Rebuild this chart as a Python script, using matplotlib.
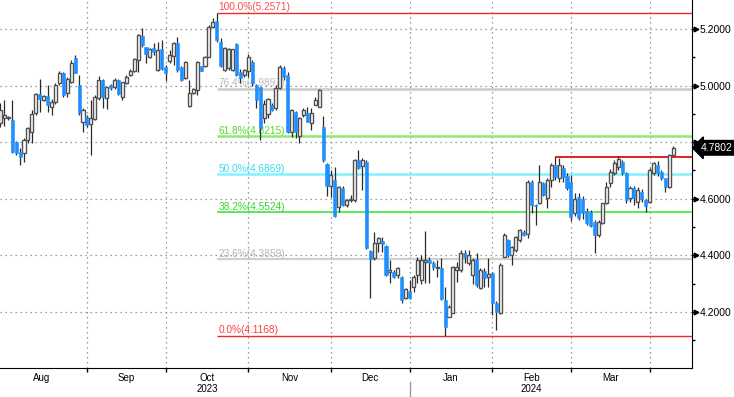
import numpy as np
import matplotlib
matplotlib.use("Agg")
import matplotlib.pyplot as plt
from matplotlib.transforms import blended_transform_factory

plt.rcParams["font.family"] = ["Liberation Sans", "DejaVu Sans"]

# daily candles, early Aug 2023 .. 9 Apr 2024 (one line per month)
opens = [
    4.867, 4.884, 4.884, 4.878, 4.802, 4.767, 4.761, 4.808, 4.837, 4.902, 4.969, 4.949, 4.963, 4.926, 4.943, 5.008, 5.046, 4.973, 5.014, 5.096, 5.002, 4.873,
    4.888, 4.864, 4.881, 4.955, 5.020, 4.955, 5.002, 4.994, 5.020, 4.961, 5.008, 5.037, 5.053, 5.090, 5.175, 5.138, 5.102, 5.132, 5.055, 5.129,
    5.067, 5.088, 5.105, 5.149, 5.067, 5.026, 4.928, 4.973, 4.984, 5.069, 5.069, 5.102, 5.208, 5.229, 5.155, 5.055, 5.061, 5.055, 5.147, 5.049, 5.037,
    5.050, 5.085, 5.002, 4.994, 4.884, 4.900, 4.933, 4.920, 4.990, 5.061, 5.037, 4.837, 4.908, 4.822, 4.896, 4.904, 4.867, 4.932, 4.926, 4.855, 4.723,
    4.645, 4.666, 4.572, 4.637, 4.578, 4.596, 4.596, 4.737, 4.716, 4.731, 4.417, 4.390, 4.443, 4.450, 4.433, 4.343, 4.343, 4.331, 4.325, 4.248,
    4.275, 4.287, 4.331, 4.313, 4.375, 4.384, 4.372, 4.355, 4.354, 4.242, 4.183, 4.197, 4.348, 4.348, 4.407, 4.372, 4.331, 4.386, 4.284, 4.346, 4.325,
    4.337, 4.233, 4.195, 4.395, 4.454, 4.401, 4.419, 4.454, 4.484, 4.476, 4.661, 4.578, 4.584, 4.657, 4.602, 4.666, 4.719, 4.672, 4.708, 4.680,
    4.660, 4.550, 4.607, 4.600, 4.558, 4.554, 4.519, 4.472, 4.513, 4.584, 4.657, 4.690, 4.714, 4.731, 4.690, 4.602, 4.637, 4.590, 4.625, 4.596,
    4.590, 4.690, 4.720, 4.696, 4.672, 4.643, 4.755,
]
highs = [
    4.937, 4.949, 4.892, 4.949, 4.805, 4.778, 4.814, 4.855, 4.914, 4.973, 5.022, 4.967, 5.002, 4.951, 5.008, 5.053, 5.049, 5.029, 5.090, 5.108, 5.037, 4.920,
    4.895, 4.949, 4.967, 5.034, 5.022, 4.996, 5.004, 5.026, 5.023, 5.014, 5.036, 5.058, 5.096, 5.182, 5.202, 5.138, 5.132, 5.152, 5.155, 5.161,
    5.073, 5.126, 5.155, 5.173, 5.069, 5.088, 5.020, 4.990, 5.088, 5.071, 5.103, 5.214, 5.238, 5.2571, 5.167, 5.135, 5.132, 5.130, 5.150, 5.058, 5.060,
    5.110, 5.090, 5.004, 4.996, 4.949, 4.955, 4.940, 5.002, 5.073, 5.070, 5.049, 4.916, 4.910, 4.890, 4.920, 4.926, 4.920, 4.960, 4.987, 4.893, 4.725,
    4.702, 4.713, 4.645, 4.645, 4.598, 4.613, 4.740, 4.772, 4.743, 4.737, 4.419, 4.484, 4.466, 4.466, 4.437, 4.384, 4.349, 4.360, 4.327, 4.284,
    4.313, 4.331, 4.396, 4.400, 4.487, 4.396, 4.380, 4.384, 4.390, 4.287, 4.225, 4.362, 4.378, 4.419, 4.419, 4.419, 4.390, 4.407, 4.354, 4.354, 4.389,
    4.340, 4.240, 4.372, 4.478, 4.457, 4.433, 4.468, 4.492, 4.490, 4.666, 4.666, 4.582, 4.720, 4.661, 4.672, 4.725, 4.749, 4.745, 4.720, 4.690,
    4.684, 4.620, 4.620, 4.610, 4.566, 4.560, 4.525, 4.525, 4.586, 4.660, 4.704, 4.737, 4.751, 4.737, 4.696, 4.645, 4.645, 4.640, 4.635, 4.600,
    4.710, 4.731, 4.733, 4.700, 4.675, 4.757, 4.786,
]
lows = [
    4.855, 4.857, 4.878, 4.763, 4.755, 4.719, 4.731, 4.798, 4.798, 4.896, 4.908, 4.945, 4.908, 4.896, 4.935, 5.002, 4.961, 4.961, 5.010, 5.043, 4.896, 4.837,
    4.855, 4.755, 4.878, 4.949, 4.920, 4.916, 4.985, 4.987, 4.967, 4.949, 5.005, 5.034, 5.049, 5.049, 5.138, 5.081, 5.098, 5.108, 5.053, 5.055,
    5.016, 5.079, 5.073, 5.049, 5.016, 5.024, 4.926, 4.970, 4.967, 5.050, 5.066, 5.100, 5.205, 5.155, 5.067, 5.053, 5.055, 5.050, 5.034, 5.008, 5.030,
    5.030, 5.000, 4.920, 4.808, 4.867, 4.886, 4.910, 4.914, 4.987, 5.020, 4.831, 4.817, 4.814, 4.796, 4.890, 4.870, 4.843, 4.930, 4.923, 4.731, 4.610,
    4.608, 4.537, 4.554, 4.573, 4.572, 4.590, 4.590, 4.704, 4.631, 4.421, 4.250, 4.384, 4.413, 4.413, 4.327, 4.301, 4.319, 4.319, 4.231, 4.245,
    4.245, 4.272, 4.301, 4.300, 4.301, 4.301, 4.350, 4.325, 4.242, 4.1168, 4.181, 4.195, 4.307, 4.342, 4.372, 4.366, 4.300, 4.290, 4.280, 4.290, 4.290,
    4.190, 4.136, 4.193, 4.393, 4.395, 4.366, 4.413, 4.448, 4.468, 4.460, 4.551, 4.507, 4.582, 4.610, 4.566, 4.643, 4.666, 4.660, 4.660, 4.630,
    4.523, 4.540, 4.525, 4.530, 4.507, 4.500, 4.407, 4.466, 4.511, 4.580, 4.643, 4.684, 4.700, 4.684, 4.584, 4.590, 4.578, 4.566, 4.590, 4.555,
    4.585, 4.684, 4.680, 4.665, 4.625, 4.637, 4.752,
]
closes = [
    4.914, 4.896, 4.888, 4.767, 4.761, 4.749, 4.808, 4.849, 4.898, 4.969, 4.953, 4.963, 4.931, 4.943, 5.002, 5.046, 4.967, 5.023, 5.079, 5.046, 4.902, 4.914,
    4.861, 4.884, 4.961, 5.020, 4.961, 4.994, 4.990, 5.020, 4.969, 5.012, 5.032, 5.053, 5.093, 5.179, 5.143, 5.112, 5.128, 5.120, 5.126, 5.059,
    5.043, 5.108, 5.152, 5.055, 5.020, 5.085, 4.973, 4.987, 5.085, 5.053, 5.100, 5.208, 5.226, 5.161, 5.069, 5.132, 5.128, 5.128, 5.037, 5.026, 5.055,
    5.100, 5.008, 4.949, 4.849, 4.935, 4.952, 4.914, 4.990, 5.067, 5.030, 4.837, 4.914, 4.837, 4.884, 4.914, 4.873, 4.902, 4.949, 4.985, 4.737, 4.645,
    4.684, 4.539, 4.643, 4.578, 4.596, 4.598, 4.737, 4.708, 4.737, 4.425, 4.386, 4.443, 4.460, 4.440, 4.331, 4.349, 4.322, 4.354, 4.242, 4.280,
    4.248, 4.322, 4.384, 4.384, 4.384, 4.372, 4.360, 4.358, 4.245, 4.146, 4.219, 4.360, 4.360, 4.407, 4.396, 4.402, 4.384, 4.295, 4.348, 4.319, 4.333,
    4.231, 4.201, 4.366, 4.472, 4.401, 4.431, 4.466, 4.490, 4.472, 4.660, 4.578, 4.575, 4.660, 4.613, 4.666, 4.719, 4.678, 4.719, 4.678, 4.637,
    4.537, 4.600, 4.531, 4.550, 4.513, 4.504, 4.472, 4.519, 4.584, 4.643, 4.696, 4.728, 4.740, 4.690, 4.596, 4.637, 4.602, 4.630, 4.600, 4.573,
    4.700, 4.725, 4.690, 4.672, 4.643, 4.755, 4.7802,
]

# first candle of each month (Aug starts one day before the window)
month_bounds = [-1, 22, 42, 63, 84, 104, 125, 145, 165]
month_labels = ["Aug", "Sep", "Oct\n2023", "Nov", "Dec", "Jan", "Feb\n2024", "Mar"]

fib_start = 55
fib_levels = [5.2571, 4.9897, 4.8215, 4.6869, 4.5524, 4.3859, 4.1168]
fib_pcts = ["100.0%", "76.4%", "61.8%", "50.0%", "38.2%", "23.6%", "0.0%"]
fib_line_colors = ["#ee2a2a", "#cfcfcf", "#8eea74", "#7ff3ff", "#3ce83c", "#cfcfcf", "#ee2a2a"]
fib_text_colors = ["#ff4b4b", "#bdbdbd", "#4fdc2a", "#38dcf0", "#2fd82f", "#b5b5b5", "#ff4040"]
fib_widths = [1.0, 2.0, 1.8, 1.8, 1.2, 1.6, 1.0]

resist_start = 141
resist_level = 4.749

y_ticks = [4.2, 4.4, 4.6, 4.8, 5.0, 5.2]

o = np.array(opens)
h = np.array(highs)
l = np.array(lows)
c = np.array(closes)
x = np.arange(len(c))
up = c >= o
dn = ~up

fig = plt.figure(figsize=(7.34, 3.97), dpi=100)
ax = fig.add_axes([0, 29 / 397, 692 / 734, 368 / 397])

x_max = 175.76
ax.set_xlim(-0.1, x_max)
ax.set_ylim(4.002, 5.3025)

# dotted grid
dots = (0, (1.1, 2.9))
for yv in y_ticks:
    ax.axhline(yv, color="#8a8a8a", lw=0.9, ls=dots, zorder=0)
for b in month_bounds[1:]:
    ax.axvline(b, color="#8a8a8a", lw=0.9, ls=dots, zorder=0)

# fibonacci retracement
for lev, pct, lc, tc, lw in zip(fib_levels, fib_pcts, fib_line_colors, fib_text_colors, fib_widths):
    ax.hlines(lev, fib_start, x_max, color=lc, lw=lw, zorder=1)
    ax.text(fib_start + 0.35, lev + 0.002, f"{pct}({lev:.4f})", color=tc,
            fontsize=7.3, ha="left", va="bottom", zorder=1)

ax.hlines(resist_level, resist_start, x_max, color="#e02020", lw=1.4, zorder=1)

# candles
ax.vlines(x, l, h, color="#2a2a2a", lw=0.9, zorder=3)
body_up = np.maximum(c[up] - o[up], 0.004)
ax.bar(x[up], body_up, bottom=o[up], width=0.78, color="white",
       edgecolor="#505050", linewidth=1.0, zorder=4)
ax.bar(x[dn], o[dn] - c[dn], bottom=c[dn], width=0.78, color="#1e8fff",
       edgecolor="#1e8fff", linewidth=0.4, zorder=4)

# axes styling
for side in ["left", "top"]:
    ax.spines[side].set_visible(False)
ax.spines["right"].set_color("black")
ax.spines["bottom"].set_color("black")

ax.yaxis.tick_right()
ax.set_yticks(y_ticks)
# the 4.8000 label sits under the last-price tag
ax.set_yticklabels(["" if abs(v - 4.8) < 1e-9 else f"{v:.4f}" for v in y_ticks])
ax.set_yticks(np.arange(4.1, 5.2, 0.2), minor=True)
ax.tick_params(axis="y", which="major", length=2.5, width=1, pad=3.2, labelsize=7.5)
ax.tick_params(axis="y", which="minor", length=2.5, width=1)
ytr = blended_transform_factory(ax.transAxes, ax.transData)
ax.plot([1.006] * len(y_ticks), y_ticks, marker=">", ms=3.4, color="black",
        ls="none", transform=ytr, clip_on=False, zorder=5)

centers = [(a + b) / 2 for a, b in zip(month_bounds[:-1], month_bounds[1:])]
ax.set_xticks(month_bounds[1:])
ax.set_xticklabels([""] * len(month_bounds[1:]))
ax.set_xticks(centers, minor=True)
ax.set_xticklabels(month_labels, minor=True, fontsize=7)
ax.tick_params(axis="x", which="major", length=3, width=1)
ax.tick_params(axis="x", which="minor", length=0, pad=3.5)

# year separator under the axis
xtr = blended_transform_factory(ax.transData, ax.transAxes)
ax.plot([104, 104], [-0.037, -0.075], color="#999999", lw=1, transform=xtr, clip_on=False)

# last price tag
ax.text(1.012, closes[-1], f"{closes[-1]:.4f}", transform=ytr, color="white",
        fontsize=7.5, ha="left", va="center", zorder=10, clip_on=False,
        bbox=dict(boxstyle="larrow,pad=0.22", fc="black", ec="black"))

fig.savefig("out.png", dpi=100)
